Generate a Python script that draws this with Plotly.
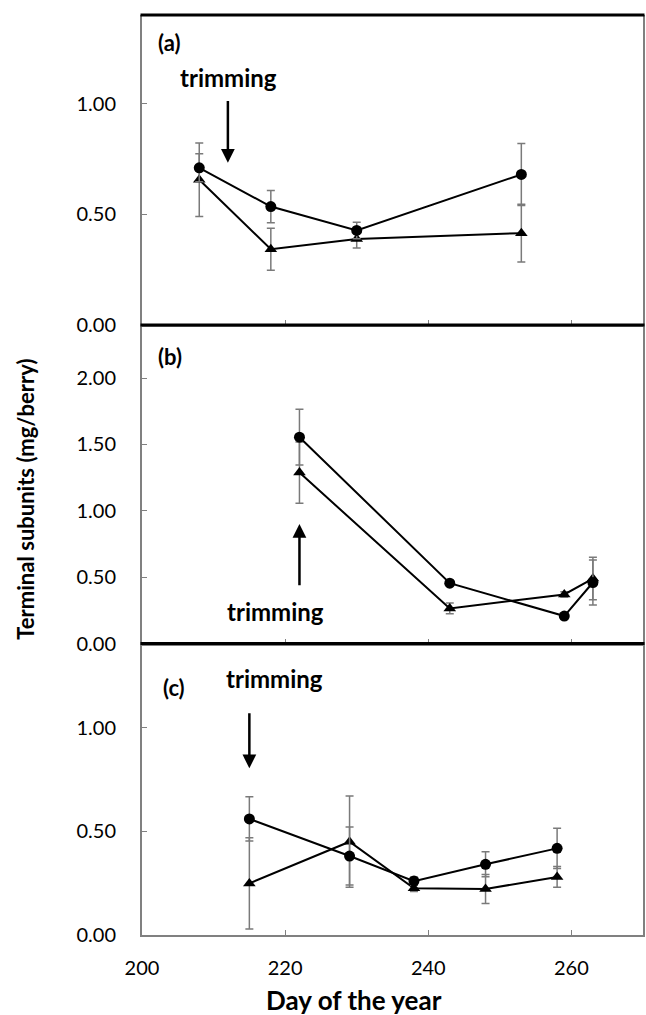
import plotly.graph_objects as go
from plotly.subplots import make_subplots

# ---- data ----
days_a = [208, 218, 230, 253]
a_circle = [0.71, 0.535, 0.427, 0.68]
a_circle_err = [0.063, 0.073, 0.037, 0.14]
a_tri = [0.656, 0.342, 0.388, 0.415]
a_tri_err = [0.166, 0.095, 0.04, 0.13]

days_b = [222, 243, 259, 263]
b_circle = [1.555, 0.455, 0.207, 0.46]
b_circle_err = [0.21, 0.02, 0.02, 0.17]
b_tri = [1.288, 0.265, 0.37, 0.49]
b_tri_err = [0.23, 0.04, 0.02, 0.16]

days_c = [215, 229, 238, 248, 258]
c_circle = [0.56, 0.381, 0.26, 0.341, 0.418]
c_circle_err = [0.107, 0.14, 0.02, 0.06, 0.097]
c_tri = [0.249, 0.45, 0.225, 0.222, 0.28]
c_tri_err = [0.22, 0.22, 0.015, 0.07, 0.05]

panel_labels = ["(a)", "(b)", "(c)"]
x_ticks = [200, 220, 240, 260]
y_ticks_a = [0, 0.5, 1.0]
y_ticks_b = [0, 0.5, 1.0, 1.5, 2.0]
y_ticks_c = [0, 0.5, 1.0]
trim_day = [212, 222, 215]

FONT = "Lato"
ERR = "#7a7a7a"
AXC = "#808080"

fig = make_subplots(rows=3, cols=1, shared_xaxes=True, vertical_spacing=0)

panels = [
    (days_a, a_circle, a_circle_err, a_tri, a_tri_err),
    (days_b, b_circle, b_circle_err, b_tri, b_tri_err),
    (days_c, c_circle, c_circle_err, c_tri, c_tri_err),
]
for i, (d, yc, ec, yt, et) in enumerate(panels, start=1):
    fig.add_trace(go.Scatter(
        x=d, y=yt, mode="lines+markers", name="triangle",
        line=dict(color="black", width=2),
        marker=dict(symbol="triangle-up", size=11, color="black"),
        error_y=dict(type="data", array=et, color=ERR, thickness=1.5, width=4),
        showlegend=False), row=i, col=1)
    fig.add_trace(go.Scatter(
        x=d, y=yc, mode="lines+markers", name="circle",
        line=dict(color="black", width=2),
        marker=dict(symbol="circle", size=11, color="black"),
        error_y=dict(type="data", array=ec, color=ERR, thickness=1.5, width=4),
        showlegend=False), row=i, col=1)

dom_a = [0.663, 1.0]
dom_b = [0.3168, 0.663]
dom_c = [0.0, 0.3168]

yax_common = dict(showline=True, mirror=True, linecolor=AXC, linewidth=2,
                  ticks="inside", ticklen=5, tickcolor=AXC, tickformat=".2f",
                  showgrid=False, zeroline=False, ticklabelstandoff=20,
                  tickfont=dict(family=FONT, size=20, color="black"))
fig.update_layout(
    yaxis=dict(domain=dom_a, range=[0, 1.4], tickvals=y_ticks_a, **yax_common),
    yaxis2=dict(domain=dom_b, range=[0, 2.4], tickvals=y_ticks_b, **yax_common),
    yaxis3=dict(domain=dom_c, range=[0, 1.406], tickvals=y_ticks_c, **yax_common),
)
xax_common = dict(range=[200, 270], tickvals=x_ticks, showline=True,
                  linecolor=AXC, linewidth=2, ticks="inside", ticklen=5,
                  tickcolor=AXC, showgrid=False, zeroline=False,
                  tickfont=dict(family=FONT, size=20, color="black"))
fig.update_xaxes(**xax_common)
fig.update_xaxes(showticklabels=False, row=1, col=1)
fig.update_xaxes(showticklabels=False, row=2, col=1)
fig.update_xaxes(showticklabels=True, ticklabelstandoff=14, row=3, col=1)

# thick black separators
for yy in [1.0, dom_b[1], dom_c[1]]:
    fig.add_shape(type="line", xref="paper", yref="paper", x0=-0.003, x1=1.003,
                  y0=yy, y1=yy, line=dict(color="black", width=3), layer="above")

ann = []
# panel labels
lab_pos = [(203.8, 1.276, "x", "y"), (203.9, 2.163, "x2", "y2"), (204.5, 1.195, "x3", "y3")]
for lab, (lx, ly, xr, yr) in zip(panel_labels, lab_pos):
    ann.append(dict(x=lx, y=ly, xref=xr, yref=yr, text="<b>%s</b>" % lab,
                    showarrow=False, font=dict(family=FONT, size=22, color="black")))
# trimming texts
trim_text = [(212.06, 1.118, "x", "y"), (218.6, 0.24, "x2", "y2"), (218.45, 1.238, "x3", "y3")]
for tx, ty, xr, yr in trim_text:
    ann.append(dict(x=tx, y=ty, xref=xr, yref=yr, text="<b>trimming</b>",
                    showarrow=False, font=dict(family=FONT, size=24, color="black")))
# arrows
arrows = [(trim_day[0], 0.733, 1.018, "x", "y"),
          (trim_day[1], 0.90, 0.428, "x2", "y2"),
          (trim_day[2], 0.804, 1.077, "x3", "y3")]
for axx, tip, tail, xr, yr in arrows:
    ann.append(dict(x=axx, y=tip, ax=axx, ay=tail, xref=xr, yref=yr,
                    axref=xr, ayref=yr, text="", showarrow=True,
                    arrowhead=2, arrowsize=1.1, arrowwidth=2.5, arrowcolor="black"))
# axis titles
ann.append(dict(x=-0.232, y=0.474, xref="paper", yref="paper", textangle=-90,
                text="<b>Terminal subunits (mg/berry)</b>", showarrow=False,
                xanchor="center", yanchor="middle",
                font=dict(family=FONT, size=22, color="black")))
ann.append(dict(x=0.424, y=-0.0707, xref="paper", yref="paper",
                text="<b>Day of the year</b>", showarrow=False,
                xanchor="center", yanchor="middle",
                font=dict(family=FONT, size=26, color="black")))

fig.update_layout(
    annotations=ann,
    width=646, height=1015,
    margin=dict(l=142, r=1, t=15, b=80),
    paper_bgcolor="white", plot_bgcolor="white",
    font=dict(family=FONT, color="black"),
    showlegend=False,
)

fig.write_html("out.html")
